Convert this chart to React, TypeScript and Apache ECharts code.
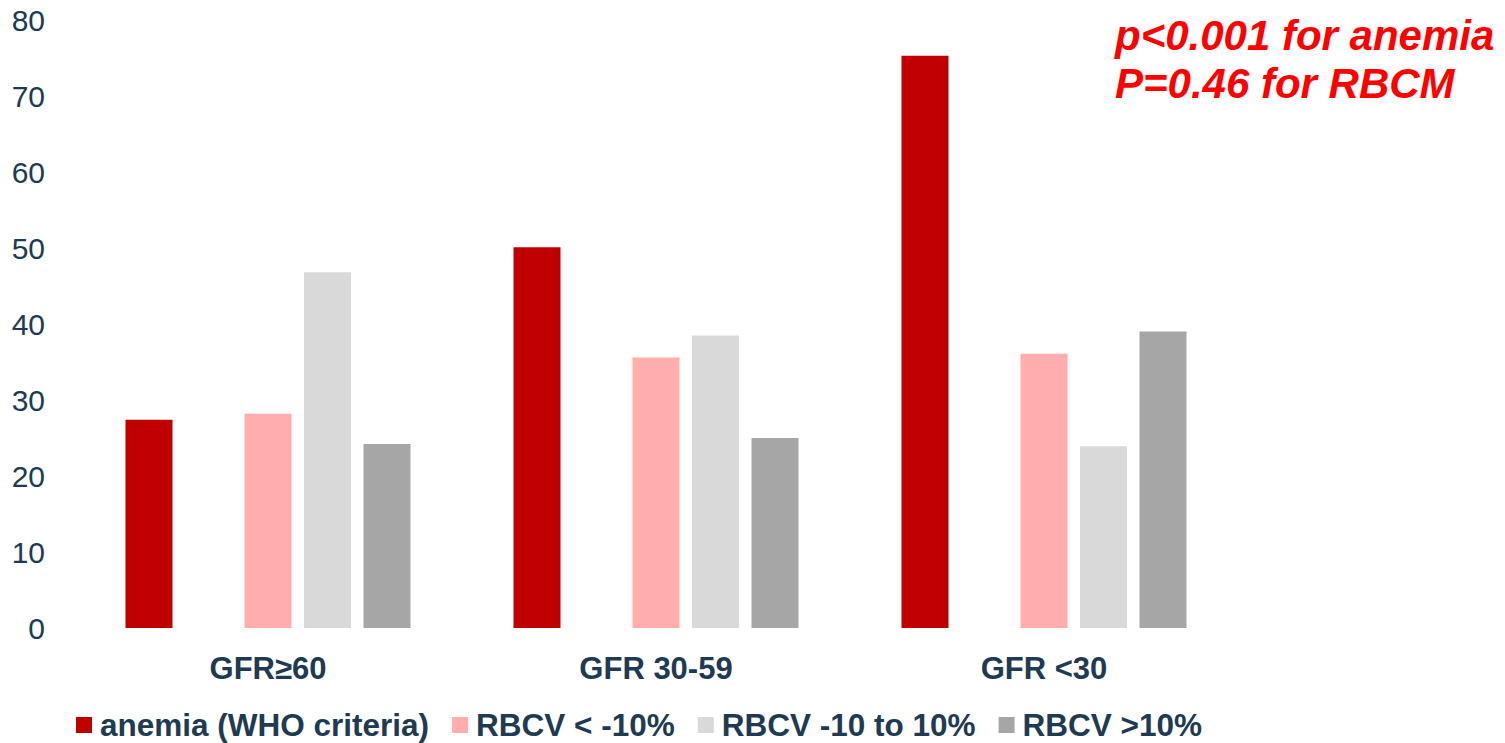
import React, { useEffect, useRef } from "react";
import * as echarts from "echarts";

const categories = ["GFR≥60", "GFR 30-59", "GFR <30"];
const seriesNames = ["anemia (WHO criteria)", "RBCV < -10%", "RBCV -10 to 10%", "RBCV >10%"];
const anemia = [27.4, 50.1, 75.3];
const spacer = [null, null, null];
const rbcvLow = [28.2, 35.6, 36.1];
const rbcvMid = [46.8, 38.5, 23.9];
const rbcvHigh = [24.2, 25.0, 39.0];
const seriesColors = ["#C00000", "#FFADAD", "#D9D9D9", "#A6A6A6"];
const yMin = 0;
const yMax = 80;
const yInterval = 10;
const noteLines = ["p<0.001 for anemia", "P=0.46 for RBCM"];

const FONT = "'Liberation Sans', Arial, sans-serif";
const TEXT_COLOR = "#203A52";

export default function App() {
  const ref = useRef<HTMLDivElement>(null);

  useEffect(() => {
    if (!ref.current) return;
    const chart = echarts.init(ref.current, null, { renderer: "svg" });
    const mk = (name: string, data: (number | null)[], color: string) => ({
      name,
      type: "bar",
      data,
      barWidth: 47,
      barGap: "26.6%",
      itemStyle: { color },
    });
    chart.setOption({
      animation: false,
      textStyle: { fontFamily: FONT },
      grid: { left: 74, right: 267, top: 20, bottom: 115, containLabel: false },
      legend: {
        data: seriesNames,
        left: 76,
        top: 709,
        padding: 0,
        icon: "rect",
        itemWidth: 16,
        itemHeight: 16,
        itemGap: 23,
        textStyle: {
          fontFamily: FONT,
          fontSize: 31.5,
          fontWeight: "bold",
          color: TEXT_COLOR,
          padding: [0, 0, 0, 3],
        },
      },
      xAxis: {
        type: "category",
        data: categories,
        axisLine: { show: false },
        axisTick: { show: false },
        axisLabel: {
          fontFamily: FONT,
          fontSize: 31,
          fontWeight: "bold",
          color: TEXT_COLOR,
          margin: 25,
        },
      },
      yAxis: {
        type: "value",
        min: yMin,
        max: yMax,
        interval: yInterval,
        axisLine: { show: false },
        axisTick: { show: false },
        splitLine: { show: false },
        axisLabel: {
          fontFamily: FONT,
          fontSize: 30,
          color: TEXT_COLOR,
          margin: 29,
        },
      },
      graphic: [
        {
          type: "text",
          left: 1115,
          top: 14,
          style: {
            text: noteLines[0],
            fill: "#FF0000",
            font: `italic bold 42px ${FONT}`,
          },
        },
        {
          type: "text",
          left: 1115,
          top: 62,
          style: {
            text: noteLines[1],
            fill: "#FF0000",
            font: `italic bold 42px ${FONT}`,
          },
        },
      ],
      series: [
        mk(seriesNames[0], anemia, seriesColors[0]),
        mk("", spacer, "#FFFFFF"),
        mk(seriesNames[1], rbcvLow, seriesColors[1]),
        mk(seriesNames[2], rbcvMid, seriesColors[2]),
        mk(seriesNames[3], rbcvHigh, seriesColors[3]),
      ],
    });
    return () => chart.dispose();
  }, []);

  return (
    <div
      ref={ref}
      style={{ position: "fixed", left: 0, top: 0, width: 1505, height: 743, background: "#fff" }}
    />
  );
}
